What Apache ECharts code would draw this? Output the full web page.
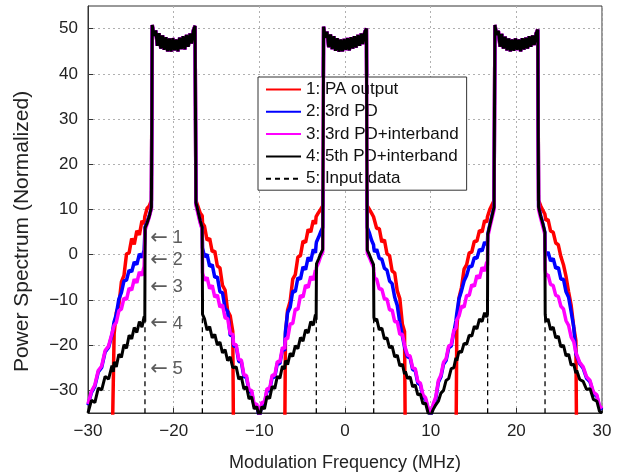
<!DOCTYPE html>
<html><head><meta charset="utf-8">
<script src="https://cdn.jsdelivr.net/npm/echarts@6/dist/echarts.min.js"></script>
<style>html,body{margin:0;padding:0;background:#fff}#c{width:630px;height:473px}</style>
</head><body><div id="c"></div>
<script>
// ---------- data ----------
const seriesNames = ['1: PA output', '2: 3rd PD', '3: 3rd PD+interband', '4: 5th PD+interband', '5: Input data'];
const xTicks = [-30, -20, -10, 0, 10, 20, 30];
const yTicks = [-30, -20, -10, 0, 10, 20, 30, 40, 50];

// frequency samples outside the channels (MHz)
const g0x = [-30, -29.6, -29.2, -28.8, -28.4, -28.0, -27.6, -27.2, -27.05, -26.95, -26.7, -26.4, -26.1, -25.8, -25.5, -25.2, -24.9, -24.6, -24.3, -24.0, -23.7, -23.45, -23.37, -23.33, -23.1, -22.85, -22.6];
const g1x = [-17.4, -17.15, -16.9, -16.67, -16.63, -16.4, -16.1, -15.8, -15.5, -15.2, -14.9, -14.6, -14.3, -14.0, -13.7, -13.4, -13.1, -13.0, -12.7, -12.4, -12.1, -11.8, -11.5, -11.2, -10.9, -10.6, -10.3, -10.0, -9.7, -9.4, -9.1, -8.8, -8.5, -8.2, -7.9, -7.6, -7.3, -7.05, -6.95, -6.7, -6.4, -6.1, -5.8, -5.5, -5.2, -4.9, -4.6, -4.3, -4.0, -3.7, -3.45, -3.37, -3.33, -3.1, -2.85, -2.6];
const g2x = [2.6, 2.85, 3.1, 3.33, 3.37, 3.45, 3.7, 4.0, 4.3, 4.6, 4.9, 5.2, 5.5, 5.8, 6.1, 6.4, 6.7, 6.95, 7.05, 7.3, 7.6, 7.9, 8.2, 8.5, 8.8, 9.1, 9.4, 9.7, 10.0, 10.3, 10.6, 10.9, 11.2, 11.5, 11.8, 12.1, 12.4, 12.7, 12.95, 13.05, 13.3, 13.6, 13.9, 14.2, 14.5, 14.8, 15.1, 15.4, 15.7, 16.0, 16.3, 16.55, 16.63, 16.67, 16.9, 17.15, 17.4];
const g3x = [22.6, 22.85, 23.1, 23.33, 23.37, 23.45, 23.7, 24.0, 24.3, 24.6, 24.9, 25.2, 25.5, 25.8, 26.1, 26.4, 26.7, 26.95, 27.05, 27.4, 27.8, 28.2, 28.6, 29.0, 29.4, 29.7, 30.0];

// channel plateaus (shared by all spectra)
const platLx = [-22.5, -22.3, -22.1, -21.9, -21.7, -21.5, -21.3, -21.1, -20.9, -20.7, -20.5, -20.3, -20.1, -19.9, -19.7, -19.5, -19.3, -19.1, -18.9, -18.7, -18.5, -18.3, -18.1, -17.9, -17.7, -17.5];
const platLy = [50.8, 48.4, 49.6, 46.2, 49.0, 45.6, 48.5, 45.3, 48.1, 45.0, 47.8, 44.9, 47.9, 45.2, 47.6, 45.0, 48.0, 45.5, 48.3, 45.4, 48.6, 46.0, 48.9, 46.7, 49.6, 50.6];
const platMx = [-2.5, -2.3, -2.1, -1.9, -1.7, -1.5, -1.3, -1.1, -0.9, -0.7, -0.5, -0.3, -0.1, 0.1, 0.3, 0.5, 0.7, 0.9, 1.1, 1.3, 1.5, 1.7, 1.9, 2.1, 2.3, 2.5];
const platMy = [50.4, 48.0, 49.3, 45.9, 48.7, 45.5, 48.3, 45.1, 47.9, 44.9, 47.6, 45.0, 47.7, 45.3, 47.9, 45.2, 48.1, 45.6, 48.3, 45.8, 48.6, 46.2, 48.9, 46.6, 49.2, 50.0];
const platRx = [17.5, 17.7, 17.9, 18.1, 18.3, 18.5, 18.7, 18.9, 19.1, 19.3, 19.5, 19.7, 19.9, 20.1, 20.3, 20.5, 20.7, 20.9, 21.1, 21.3, 21.5, 21.7, 21.9, 22.1, 22.3, 22.5];
const platRy = [50.8, 48.6, 49.5, 46.0, 48.8, 45.6, 48.2, 45.2, 47.8, 45.0, 47.6, 45.1, 47.8, 45.3, 47.6, 45.0, 47.9, 45.4, 48.0, 45.6, 48.3, 46.0, 48.5, 46.4, 48.9, 49.8];

// 1: PA output
const red0 = [-45, -45, -45, -45, -45, -45, -45, -45, -45, -17.5, -12.8, -11.2, -6.0, -4.6, 0.2, 0.4, 3.6, 2.3, 5.3, 4.4, 7.5, 6.8, 8.4, 8.8, 10.3, 10.8, 12.0];
const red1 = [12.0, 10.6, 9.2, 8.6, 7.0, 6.3, 3.2, 3.6, 0.7, 0.8, -2.5, -2.9, -6.8, -7.8, -12.4, -13.5, -17.0, -45, -45, -45, -45, -45, -45, -45, -45, -45, -45, -45, -45, -45, -45, -45, -45, -45, -45, -45, -45, -45, -17.5, -12.2, -10.3, -5.4, -4.4, -0.5, -0.2, 3.0, 2.7, 5.6, 5.0, 7.6, 6.8, 8.4, 8.6, 9.3, 10.0, 10.8];
const red2 = [10.8, 10.0, 9.2, 8.4, 8.0, 8.2, 5.8, 5.8, 2.8, 3.3, 0.2, -0.2, -3.6, -4.0, -8.0, -9.7, -15.4, -17.0, -45, -45, -45, -45, -45, -45, -45, -45, -45, -45, -45, -45, -45, -45, -45, -45, -45, -45, -45, -45, -45, -16.5, -9.6, -7.2, -3.2, -2.2, 0.4, 0.6, 3.0, 3.0, 5.4, 5.0, 7.6, 7.2, 8.4, 8.8, 10.0, 11.0, 12.0];
const red3 = [12.0, 10.8, 9.8, 9.0, 8.6, 7.6, 7.8, 5.2, 5.0, 2.6, 2.2, -0.4, -2.2, -4.8, -8.2, -11.2, -16.0, -19.0, -45, -45, -45, -45, -45, -45, -45, -45, -45];
// 2: 3rd PD
const blue0 = [-33.3, -30.5, -29.1, -25.9, -24.9, -21.5, -20.5, -17.7, -17.9, -14.8, -13.2, -9.8, -8.4, -5.8, -5.6, -3.4, -3.8, -1.6, -2.2, 0.2, -0.6, 1.0, 0.6, 6.2, 7.2, 8.6, 10.4];
const blue1 = [11.3, 9.3, 7.3, 5.8, 1.5, -0.5, 0.1, -2.6, -2.2, -5.0, -4.9, -8.2, -8.4, -11.9, -12.5, -17.8, -18.0, -20.2, -20.3, -23.6, -23.7, -27.0, -27.1, -30.3, -30.4, -33.5, -33.4, -36.0, -33.0, -33.1, -30.0, -30.1, -27.0, -27.1, -24.0, -24.1, -20.9, -21.2, -16.9, -12.8, -11.6, -8.0, -8.2, -5.1, -5.4, -2.7, -3.3, -0.6, -1.4, 1.2, 0.4, 2.3, 2.8, 3.8, 5.0, 6.0];
const blue2 = [6.0, 4.8, 3.2, 2.2, 1.4, 0.6, 1.2, -0.8, -1.0, -3.0, -3.4, -5.8, -6.4, -9.4, -11.2, -15.0, -18.0, -20.4, -20.2, -22.6, -22.8, -25.4, -25.6, -28.4, -28.8, -31.4, -32.0, -34.2, -35.6, -33.4, -31.8, -28.2, -27.0, -24.2, -23.4, -20.6, -20.2, -17.2, -14.6, -13.0, -9.8, -8.0, -5.8, -4.6, -2.6, -2.6, -0.6, -0.8, 1.2, 0.8, 2.8, 2.2, 3.0, 4.6, 6.6, 8.6, 10.6];
const blue3 = [10.6, 8.6, 6.8, 5.0, 1.0, 0.0, 0.6, -1.4, -0.8, -3.0, -2.8, -5.4, -5.4, -8.2, -9.4, -12.6, -16.0, -21.9, -21.5, -24.1, -25.1, -27.3, -28.1, -30.7, -31.3, -33.7, -34.3];
// 3: 3rd PD+interband
const mag0 = [-33.0, -30.2, -28.8, -25.6, -24.6, -21.2, -20.2, -17.4, -17.6, -15.6, -15.0, -12.4, -12.0, -9.6, -9.9, -7.4, -7.8, -5.4, -6.2, -3.8, -4.6, -2.6, -3.0, 5.5, 6.8, 8.3, 10.2];
const mag1 = [11.0, 9.0, 7.0, 5.5, -4.0, -5.7, -5.0, -7.5, -6.8, -9.4, -8.9, -11.6, -11.1, -14.0, -14.1, -17.4, -17.6, -19.8, -19.9, -23.2, -23.3, -26.6, -26.7, -29.9, -30.0, -33.1, -33.0, -35.6, -32.6, -32.7, -29.6, -29.7, -26.6, -26.7, -23.6, -23.7, -20.5, -20.8, -18.5, -18.6, -15.3, -15.2, -12.0, -12.1, -9.0, -9.4, -6.7, -7.3, -4.8, -5.6, -3.4, -4.2, -2.8, -1.8, -0.4, 0.6];
const mag2 = [0.4, -0.6, -1.8, -2.8, -3.8, -5.2, -5.4, -7.6, -7.6, -9.8, -9.8, -12.2, -12.2, -14.8, -14.8, -17.6, -17.6, -20.0, -19.8, -22.2, -22.4, -25.0, -25.2, -28.0, -28.4, -31.0, -31.6, -33.8, -35.2, -33.0, -31.4, -27.8, -26.6, -23.8, -23.0, -20.2, -19.8, -16.8, -16.2, -14.4, -13.6, -11.4, -11.6, -9.0, -9.0, -6.6, -7.0, -4.6, -5.2, -2.8, -3.6, -1.6, -2.4, 4.0, 6.0, 8.0, 10.0];
const mag3 = [10.0, 8.0, 6.2, 4.5, -3.4, -4.6, -4.4, -6.6, -6.8, -9.0, -9.2, -11.4, -12.0, -14.6, -15.6, -18.2, -19.2, -21.6, -21.2, -23.8, -24.8, -27.0, -27.8, -30.4, -31.0, -33.4, -34.0];
// 4: 5th PD+interband
const blk0 = [-35.0, -32.2, -32.7, -29.5, -29.9, -26.9, -27.5, -24.5, -25.9, -23.7, -24.8, -22.0, -22.7, -19.9, -20.7, -17.8, -18.6, -16.1, -17.2, -14.8, -16.0, -13.7, -14.8, 6.0, 7.0, 8.5, 10.5];
const blk1 = [11.5, 9.5, 7.5, 6.0, -13.2, -14.2, -16.7, -15.9, -18.4, -17.6, -20.0, -19.3, -21.7, -21.0, -23.4, -22.6, -25.0, -25.3, -24.8, -27.5, -27.0, -29.7, -29.2, -31.9, -31.4, -34.1, -33.6, -36.0, -33.6, -34.1, -31.3, -31.8, -29.1, -29.6, -26.9, -27.3, -24.6, -25.3, -23.4, -24.3, -21.8, -22.5, -20.1, -20.8, -18.3, -19.1, -16.6, -17.3, -14.8, -15.6, -13.2, -14.4, -2.0, -1.0, 0.2, 1.2];
const blk2 = [1.0, 0.0, -1.2, -2.2, -13.8, -14.6, -14.2, -16.6, -16.2, -18.6, -18.4, -20.6, -20.2, -22.6, -22.2, -24.6, -24.2, -26.4, -25.8, -27.4, -27.0, -29.2, -28.8, -31.0, -30.8, -33.0, -32.8, -35.0, -35.6, -34.2, -33.2, -32.4, -30.6, -30.0, -27.8, -27.4, -25.2, -25.0, -22.8, -23.4, -21.4, -21.6, -19.6, -19.8, -17.8, -18.0, -15.8, -16.4, -14.2, -14.8, -12.8, -13.8, -13.2, 4.5, 6.5, 8.5, 10.5];
const blk3 = [10.5, 8.5, 6.8, 5.0, -13.2, -14.8, -14.2, -16.6, -16.0, -18.4, -18.0, -20.4, -20.0, -22.4, -22.0, -24.4, -24.2, -26.2, -25.6, -27.6, -28.0, -29.8, -29.6, -32.0, -32.4, -34.6, -35.0];
// 5: Input data (channel edges, visible below the spectra)
const inputX = [-23.35, -16.65, -3.35, 3.35, 16.65, 23.35];
const inputTop = [6, 6, -2, -2, 4.5, 5];
const inputBottom = -45;
// arrow annotations
const annX = [-22.8, -22.8, -22.8, -22.8, -22.8];
const annY = [3.6, -1.2, -7.2, -15.3, -25.3];
const annNum = ['1', '2', '3', '4', '5'];

// ---------- build ----------
function pairs(xs, ys) { return xs.map(function (x, i) { return [x, ys[i]]; }); }
function spectrum(y0, y1, y2, y3) {
  return [].concat(pairs(g0x, y0), pairs(platLx, platLy), pairs(g1x, y1),
    pairs(platMx, platMy), pairs(g2x, y2), pairs(platRx, platRy), pairs(g3x, y3));
}
const inputData = [];
inputX.forEach(function (x, i) { inputData.push([x, inputBottom], [x, inputTop[i]], [x, '-']); });
const annData = annX.map(function (x, i) { return [x, annY[i]]; });

const FONT = "'Liberation Sans', Arial, Helvetica, sans-serif";
const fmt = function (v) { return v < 0 ? '\u2212' + Math.abs(v) : String(v); };
function lineSeries(name, data, color, width, z, dashed) {
  return {
    name: name, type: 'line', data: data, symbol: 'none', showSymbol: false,
    clip: true, z: z, silent: true, animation: false,
    lineStyle: { color: color, width: width, type: dashed ? [5, 4] : 'solid' },
    itemStyle: { color: color }
  };
}

const chart = echarts.init(document.getElementById('c'), null, { renderer: 'canvas' });
chart.setOption({
  animation: false,
  backgroundColor: '#ffffff',
  grid: { left: 88, right: 28, top: 6, bottom: 60, containLabel: false, outerBoundsMode: 'none',
    show: true, borderColor: '#333', borderWidth: 1, backgroundColor: 'transparent' },
  xAxis: {
    type: 'value', min: -30, max: 30, interval: 10,
    axisLine: { show: true, onZero: false, lineStyle: { color: '#333', width: 1 } },
    axisTick: { show: true, inside: true, length: 5, lineStyle: { color: '#333' }, customValues: xTicks },
    axisLabel: { fontSize: 17, color: '#222', fontFamily: FONT, margin: 10, formatter: fmt, customValues: xTicks },
    splitLine: { show: true, lineStyle: { color: '#b0b0b0', width: 1, type: [2, 3] } },
    name: 'Modulation Frequency (MHz)', nameLocation: 'middle', nameGap: 41,
    nameTextStyle: { fontSize: 18, color: '#222', fontFamily: FONT }
  },
  yAxis: {
    type: 'value', min: -35, max: 55,
    axisLine: { show: true, onZero: false, lineStyle: { color: '#333', width: 1 } },
    axisTick: { show: true, inside: true, length: 5, lineStyle: { color: '#333' }, customValues: yTicks },
    axisLabel: { fontSize: 17, color: '#222', fontFamily: FONT, margin: 10, formatter: fmt, customValues: yTicks },
    splitLine: { show: true, lineStyle: { color: '#b0b0b0', width: 1, type: [2, 3] } },
    name: 'Power Spectrum (Normalized)', nameLocation: 'middle', nameGap: 55,
    nameTextStyle: { fontSize: 21, color: '#222', fontFamily: FONT, padding: [0, 44, 0, 0] }
  },
  legend: {
    data: seriesNames, orient: 'vertical', left: 258, top: 77,
    itemWidth: 35, itemHeight: 14, itemGap: 5.3, padding: [4, 8, 3, 7],
    backgroundColor: '#fff', borderColor: '#333', borderWidth: 1, borderRadius: 0,
    itemStyle: { opacity: 0 },
    textStyle: { fontSize: 17, color: '#111', fontFamily: FONT },
    selectedMode: false
  },
  series: [
    lineSeries(seriesNames[0], spectrum(red0, red1, red2, red3), '#ff0000', 3.5, 2),
    lineSeries(seriesNames[1], spectrum(blue0, blue1, blue2, blue3), '#0000ff', 3.5, 3),
    lineSeries(seriesNames[2], spectrum(mag0, mag1, mag2, mag3), '#ff00ff', 3.5, 4),
    lineSeries(seriesNames[4], inputData, '#000000', 1.3, 5, true),
    lineSeries(seriesNames[3], spectrum(blk0, blk1, blk2, blk3), '#000000', 3, 6),
    {
      type: 'scatter', data: annData, symbolSize: 1, silent: true, z: 7,
      itemStyle: { color: 'rgba(0,0,0,0)' },
      label: {
        show: true, position: 'right', distance: 0,
        formatter: function (p) { return '{a|\u2190}{b| ' + annNum[p.dataIndex] + '}'; },
        rich: {
          a: { fontFamily: "'DejaVu Sans', sans-serif", fontSize: 21, color: '#333' },
          b: { fontFamily: FONT, fontSize: 18, color: '#333' }
        }
      }
    }
  ]
});
</script>
</body></html>
